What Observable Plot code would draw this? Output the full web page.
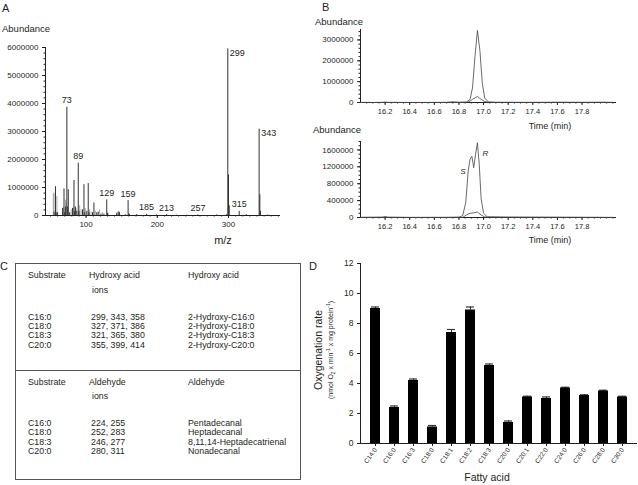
<!DOCTYPE html>
<html><head><meta charset="utf-8">
<script src="https://cdn.jsdelivr.net/npm/d3@7"></script>
<script src="https://cdn.jsdelivr.net/npm/@observablehq/plot@0.6"></script>
<style>
body{margin:0;background:#fff;}
#fig{position:relative;width:638px;height:485px;overflow:hidden;font-family:"Liberation Sans",Arial,sans-serif;color:#231f20;background:#fff;}
.abs{position:absolute;white-space:nowrap;line-height:1;}
</style></head><body><div id="fig"></div>
<script>
// ---------- Panel A: mass spectrum ----------
const darkMz = [55,57,58,60,67,69,70,71,73,74,75,77,81,83,84,85,87,89,90,95,97,98,101,103,104,109,111,115,117,121,125,129,130,143,145,147,155,159,160,161,171,185,199,213,227,241,257,283,297,299,300,301,315,325,343,344,345,355];
const darkAb = [120000,1030000,100000,100000,250000,950000,100000,300000,3870000,300000,920000,100000,250000,1250000,150000,300000,150000,1870000,150000,200000,1100000,100000,150000,1140000,100000,100000,450000,100000,120000,50000,50000,560000,80000,80000,120000,100000,30000,530000,60000,30000,30000,40000,20000,30000,10000,10000,20000,20000,30000,5950000,1450000,350000,150000,30000,3080000,740000,150000,20000];
const grayMz = [54,55,59,68,71,72,79,82,86,91,93,99,105,107,113,119,123,131,146];
const grayAb = [780000,800000,680000,300000,550000,450000,200000,300000,250000,350000,200000,250000,200000,120000,150000,200000,100000,80000,150000];
const labelCenterMz = [73,89,129,159,185,213,257,315];
const labelCenterAb = [3870000,1870000,560000,530000,40000,30000,20000,150000];
const labelSideMz = [299,343];
const labelSideAb = [5950000,3080000];
const mzDomain = [43,373];
const abDomainA = [0,6000000];
const mzTicks = [100,200,300];
const abTicksA = [0,1000000,2000000,3000000,4000000,5000000,6000000];

// ---------- Panel B: chromatograms ----------
const timeDomain = [16.0,18.08];
const timeTicks = [16.2,16.4,16.6,16.8,17.0,17.2,17.4,17.6,17.8];
const topTime = [16.00,16.10,16.18,16.20,16.22,16.40,16.60,16.70,16.75,16.80,16.86,16.89,16.91,16.93,16.95,16.97,16.99,17.01,17.04,17.10,17.30,17.50,17.60,17.80,17.95,18.05];
const topAb   = [5000,3000,8000,25000,8000,3000,4000,10000,35000,15000,25000,150000,700000,2200000,3450000,2500000,900000,200000,30000,10000,5000,8000,15000,10000,15000,8000];
const topMinorTime = [16.00,16.85,16.88,16.91,16.95,16.98,17.01,17.05,18.05];
const topMinorAb   = [0,0,30000,150000,290000,150000,40000,5000,0];
const topAbDomain = [0,3500000];
const topAbTicks = [0,1000000,2000000,3000000];
const botTime = [16.00,16.18,16.20,16.22,16.40,16.70,16.80,16.83,16.855,16.875,16.89,16.905,16.92,16.935,16.95,16.965,16.98,17.00,17.03,17.20,17.60,18.05];
const botAb   = [5000,10000,25000,10000,3000,5000,10000,40000,350000,1100000,1380000,1450000,1180000,1500000,1770000,1250000,450000,100000,15000,5000,5000,3000];
const botMinorTime = [16.00,16.83,16.86,16.89,16.92,16.95,16.98,17.01,18.05];
const botMinorAb   = [0,0,60000,100000,110000,130000,60000,10000,0];
const botAbDomain = [0,1800000];
const botAbTicks = [0,400000,800000,1200000,1600000];
const enantiomers = ["S","R"];
const enantTime = [16.905,16.95];
const enantAb = [1450000,1770000];

// ---------- Panel C: table ----------
const substrates = ["C16:0","C18:0","C18:3","C20:0"];
const hydroxyIons = ["299, 343, 358","327, 371, 386","321, 365, 380","355, 399, 414"];
const hydroxyAcids = ["2-Hydroxy-C16:0","2-Hydroxy-C18:0","2-Hydroxy-C18:3","2-Hydroxy-C20:0"];
const aldehydeIons = ["224, 255","252, 283","246, 277","280, 311"];
const aldehydes = ["Pentadecanal","Heptadecanal","8,11,14-Heptadecatrienal","Nonadecanal"];

// ---------- Panel D: oxygenation rates ----------
const fattyAcids = ["C14:0","C16:0","C16:3","C18:0","C18:1","C18:2","C18:3","C20:0","C20:1","C22:0","C24:0","C26:0","C28:0","C30:0"];
const rates = [9.0,2.4,4.2,1.1,7.4,8.9,5.2,1.4,3.1,3.0,3.7,3.2,3.5,3.1];
const rateErr = [0.1,0.1,0.1,0.1,0.2,0.2,0.1,0.1,0.05,0.1,0.05,0.05,0.05,0.05];
const rateTicks = [0,2,4,6,8,10,12];

const FONT = '"Liberation Sans", Arial, sans-serif';
const INK = "#231f20";
const fig = document.getElementById("fig");
function txt(html, x, y, size, anchor, extra) {
  const d = document.createElement("div");
  d.className = "abs";
  d.innerHTML = html;
  d.style.left = x + "px"; d.style.top = y + "px"; d.style.fontSize = size + "px";
  const tx = anchor === "middle" ? "-50%" : anchor === "end" ? "-100%" : "0";
  d.style.transform = `translate(${tx},-50%)`;
  if (extra) Object.assign(d.style, extra);
  fig.appendChild(d);
  return d;
}
function place(svg, left, top) {
  svg.style.position = "absolute"; svg.style.left = left + "px"; svg.style.top = top + "px";
  fig.appendChild(svg);
}
const fmt = d3.format("d");
const baseStyle = {fontFamily: FONT, fontSize: "8px", color: INK, background: "transparent", overflow: "visible"};

// Panel A
const dark = darkMz.map((mz, i) => ({mz, ab: darkAb[i]}));
const gray = grayMz.map((mz, i) => ({mz, ab: grayAb[i]}));
const labC = labelCenterMz.map((mz, i) => ({mz, ab: labelCenterAb[i]}));
const labS = labelSideMz.map((mz, i) => ({mz, ab: labelSideAb[i]}));
const plotA = Plot.plot({
  width: 300, height: 250, marginLeft: 45, marginRight: 20, marginTop: 47, marginBottom: 35,
  style: baseStyle,
  x: {domain: mzDomain, label: null},
  y: {domain: abDomainA, label: null},
  marks: [
    Plot.axisY({ticks: d3.range(0, 6000001, 200000), tickSize: 1.5, tickFormat: () => "", label: null}),
    Plot.axisY({ticks: abTicksA, tickSize: 3, tickPadding: 4, tickFormat: fmt, label: null}),
    Plot.axisX({ticks: d3.range(50, 371, 10), tickSize: 1.5, tickFormat: () => "", label: null}),
    Plot.axisX({ticks: mzTicks, tickSize: 3, tickPadding: 3, label: null}),
    Plot.ruleX(gray, {x: "mz", y: "ab", stroke: "#a7a7a7", strokeWidth: 1}),
    Plot.ruleX(dark, {x: "mz", y: "ab", stroke: "#333", strokeWidth: 1}),
    Plot.ruleX([mzDomain[0]], {y1: abDomainA[0], y2: abDomainA[1], stroke: INK}),
    Plot.ruleY([0], {stroke: INK}),
    Plot.text(labC, {x: "mz", y: "ab", text: d => String(d.mz), dy: -7, fontSize: 9, fill: INK}),
    Plot.text(labS, {x: "mz", y: "ab", text: d => String(d.mz), dy: 4, dx: 2, textAnchor: "start", fontSize: 9, fill: INK})
  ]
});
place(plotA, 0, 0);

// Panel B top
function chrom(time, ab) { return time.map((t, i) => ({t, ab: ab[i]})); }
const plotBtop = Plot.plot({
  width: 338, height: 125, marginLeft: 60, marginRight: 22, marginTop: 29, marginBottom: 23,
  style: baseStyle,
  x: {domain: timeDomain, label: null},
  y: {domain: topAbDomain, label: null},
  marks: [
    Plot.axisY({ticks: d3.range(0, 3500001, 200000), tickSize: 1.5, tickFormat: () => "", label: null}),
    Plot.axisY({ticks: topAbTicks, tickSize: 3, tickPadding: 4, tickFormat: fmt, label: null}),
    Plot.axisX({ticks: d3.range(16.05, 18.08, 0.05), tickSize: 1.5, tickFormat: () => "", label: null}),
    Plot.axisX({ticks: timeTicks, tickSize: 3, tickPadding: 3, tickFormat: d3.format(".1f"), fontSize: 7.5, label: null}),
    Plot.ruleX([timeDomain[0]], {y1: topAbDomain[0], y2: topAbDomain[1], stroke: INK}),
    Plot.ruleY([0], {stroke: INK}),
    Plot.line(chrom(topMinorTime, topMinorAb), {x: "t", y: "ab", stroke: "#444", strokeWidth: 0.8}),
    Plot.line(chrom(topTime, topAb), {x: "t", y: "ab", stroke: "#444", strokeWidth: 0.8})
  ]
});
place(plotBtop, 300, 0);

// Panel B bottom
const enant = enantiomers.map((n, i) => ({n, t: enantTime[i], ab: enantAb[i]}));
const plotBbot = Plot.plot({
  width: 338, height: 125, marginLeft: 60, marginRight: 22, marginTop: 16, marginBottom: 33,
  style: baseStyle,
  x: {domain: timeDomain, label: null},
  y: {domain: botAbDomain, label: null},
  marks: [
    Plot.axisY({ticks: d3.range(0, 1800001, 100000), tickSize: 1.5, tickFormat: () => "", label: null}),
    Plot.axisY({ticks: botAbTicks, tickSize: 3, tickPadding: 4, tickFormat: fmt, label: null}),
    Plot.axisX({ticks: d3.range(16.05, 18.08, 0.05), tickSize: 1.5, tickFormat: () => "", label: null}),
    Plot.axisX({ticks: timeTicks, tickSize: 3, tickPadding: 3, tickFormat: d3.format(".1f"), fontSize: 7.5, label: null}),
    Plot.ruleX([timeDomain[0]], {y1: botAbDomain[0], y2: botAbDomain[1], stroke: INK}),
    Plot.ruleY([0], {stroke: INK}),
    Plot.line(chrom(botMinorTime, botMinorAb), {x: "t", y: "ab", stroke: "#444", strokeWidth: 0.8}),
    Plot.line(chrom(botTime, botAb), {x: "t", y: "ab", stroke: "#444", strokeWidth: 0.8}),
    Plot.text(enant.filter(d => d.n === "S"), {x: "t", y: "ab", text: "n", dx: -9, dy: 15, fontSize: 8, fontStyle: "italic", fill: INK}),
    Plot.text(enant.filter(d => d.n === "R"), {x: "t", y: "ab", text: "n", dx: 8, dy: 11, fontSize: 8, fontStyle: "italic", fill: INK})
  ]
});
place(plotBbot, 300, 125);

// Panel D
const rateData = fattyAcids.map((fa, i) => ({fa, rate: rates[i], err: rateErr[i]}));
const plotD = Plot.plot({
  width: 338, height: 235, marginLeft: 60, marginRight: 1, marginTop: 13, marginBottom: 42,
  style: baseStyle,
  x: {domain: fattyAcids, paddingInner: 0.5, paddingOuter: 0.25, label: null},
  y: {domain: [0, 12], label: null},
  marks: [
    Plot.axisY({ticks: rateTicks, tickSize: 3, tickPadding: 4, fontSize: 8.5, label: null}),
    Plot.axisX({tickRotate: -55, tickSize: 3, tickPadding: 2, fontSize: 6.5, label: null}),
    Plot.ruleX(rateData, {x: "fa", y1: "rate", y2: d => d.rate + d.err, stroke: "#333"}),
    Plot.tickY(rateData, {x: "fa", y: d => d.rate + d.err, stroke: "#333", strokeWidth: 1.2, inset: 1}),
    Plot.barY(rateData, {x: "fa", y: "rate", fill: "#000"}),
    Plot.frame({anchor: "left", stroke: INK}),
    Plot.ruleY([0], {stroke: INK})
  ]
});
place(plotD, 300, 250);

// Text labels
txt("A", 2, 8, 11);
txt("B", 322, 7, 11);
txt("C", 0, 266, 11);
txt("D", 309, 266, 11);
txt("Abundance", 2, 29, 9.5);
txt("m/z", 223, 240, 11, "middle");
txt("Abundance", 315, 22, 9.5);
txt("Time (min)", 550, 126, 9, "middle");
txt("Abundance", 313, 130, 9.5);
txt("Time (min)", 550, 240, 9, "middle");
txt("Fatty acid", 487, 477, 10.5, "middle");
txt("Oxygenation rate", 318, 350, 10.5, "middle", {transform: "translate(-50%,-50%) rotate(-90deg)"});
txt("(nmol O<sub style='font-size:5px'>2</sub> x min<sup style='font-size:5px'>-1</sup> x mg protein<sup style='font-size:5px'>-1</sup>)", 331, 350, 7, "middle", {transform: "translate(-50%,-50%) rotate(-90deg)"});

// Panel C table
const box = document.createElement("div");
Object.assign(box.style, {position: "absolute", left: "15px", top: "263px", width: "286px", height: "217px", border: "1px solid #555", boxSizing: "border-box"});
fig.appendChild(box);
const divider = document.createElement("div");
Object.assign(divider.style, {position: "absolute", left: "15px", top: "370px", width: "286px", height: "0", borderTop: "1px solid #555"});
fig.appendChild(divider);
const colX = [28, 91, 188];
const TS = 8.8;
function section(y0, head2, names, ions, products) {
  txt("Substrate", colX[0], y0, TS);
  txt(head2, colX[1] - 2, y0, TS);
  txt("ions", colX[1] + 1, y0 + 14.5, TS);
  txt(head2, colX[2], y0, TS);
  names.forEach((s, i) => {
    const y = y0 + 41.5 + i * 9.4;
    txt(s, colX[0], y, TS);
    txt(ions[i], colX[1], y, TS);
    txt(products[i], colX[2], y, TS);
  });
}
section(275, "Hydroxy acid", substrates, hydroxyIons, hydroxyAcids);
section(381.5, "Aldehyde", substrates, aldehydeIons, aldehydes);
</script></body></html>
